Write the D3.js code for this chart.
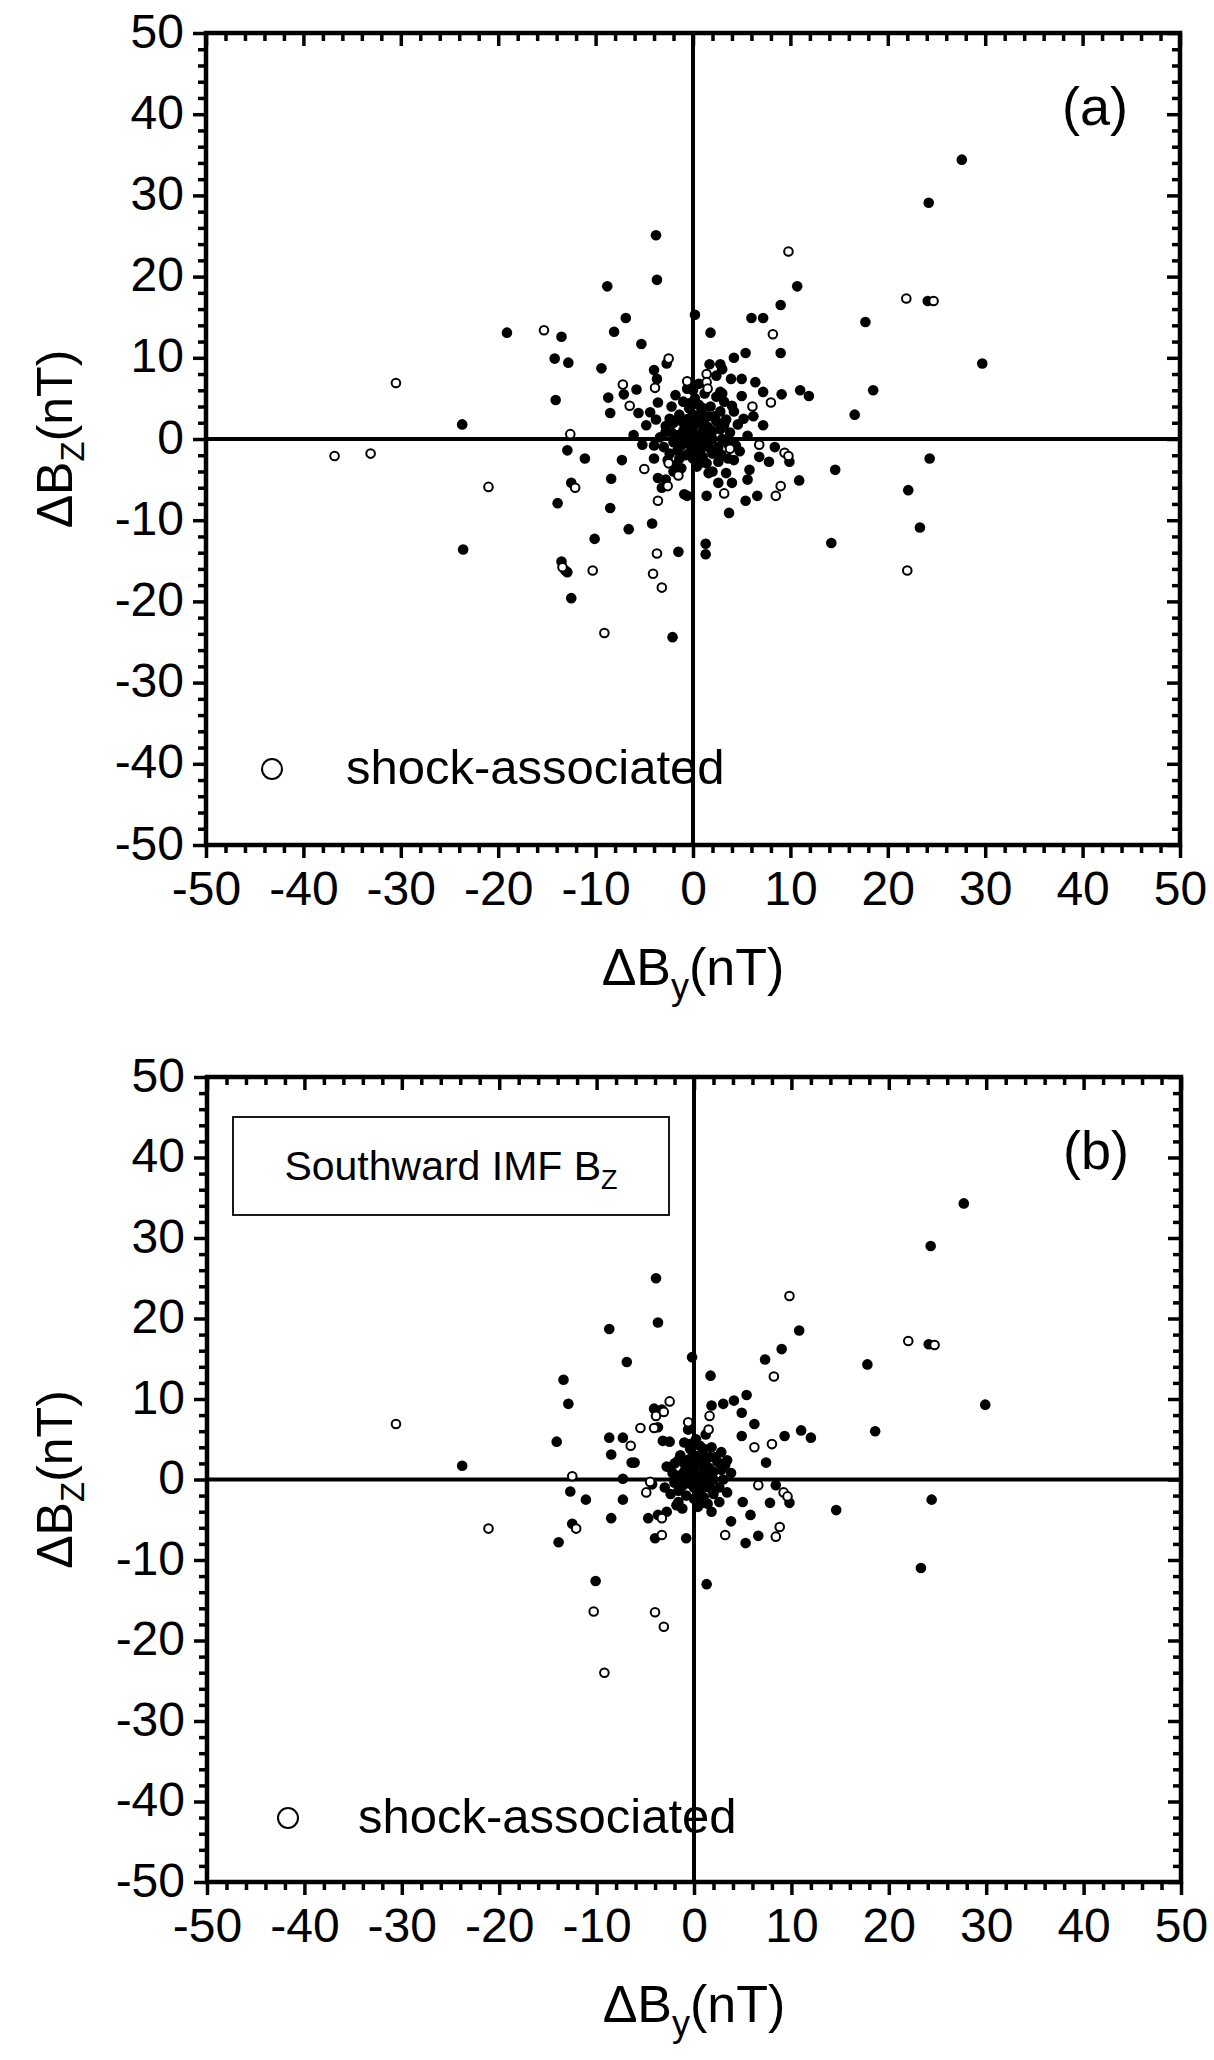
<!DOCTYPE html>
<html>
<head>
<meta charset="utf-8">
<script src="https://cdn.jsdelivr.net/npm/d3@7"></script>
<style>
  html, body { margin: 0; padding: 0; background: #fff; }
  svg { display: block; }
  text { font-family: "Liberation Sans", Arial, Helvetica, sans-serif; fill: #000; }
</style>
</head>
<body>
<svg id="chart" width="1214" height="2060"></svg>
<script>
// ---------------- DATA ----------------
const xDomain = [-50, 50];
const yDomain = [-50, 50];
const majorTicks = [-50, -40, -30, -20, -10, 0, 10, 20, 30, 40, 50];
const minorTicks = [-48,-46,-44,-42,-38,-36,-34,-32,-28,-26,-24,-22,-18,-16,-14,-12,-8,-6,-4,-2,
                    2,4,6,8,12,14,16,18,22,24,26,28,32,34,36,38,42,44,46,48];
const xTitle = ["ΔB", "y", "(nT)"];
const yTitle = ["ΔB", "Z", "(nT)"];
const legendLabel = "shock-associated";
const panelLabels = ["(a)", "(b)"];
const boxLabel = ["Southward IMF B", "Z"];

// Panel (a): all events, [ΔBy, ΔBz]
const aFilled = [
  [27.6,34.4],[24.2,29.1],[-3.8,25.1],[-3.7,19.6],[-8.8,18.8],[10.7,18.8],[24.1,17.0],[17.7,14.4],
  [29.7,9.3],[18.5,6.0],[16.6,3.0],[24.3,-2.4],[22.1,-6.3],[23.3,-10.9],[14.2,-12.8],[14.6,-3.8],
  [10.9,-5.1],[9.0,10.6],[6.0,14.9],[7.2,14.9],[9.0,16.5],[1.8,13.1],[0.2,15.3],[5.4,10.6],[4.2,10.0],
  [3.0,8.6],[2.8,9.2],[1.7,9.2],
  [-19.1,13.1],[-13.5,12.6],[-14.2,9.9],[-12.8,9.4],[-9.4,8.7],[-6.9,14.9],[-8.1,13.2],[-5.3,11.7],
  [-23.7,1.8],[-12.9,-1.4],[-11.1,-2.4],[-14.1,4.8],[-8.7,5.1],[-8.5,3.2],[-7.1,5.5],[-5.8,6.1],
  [-2.7,9.3],[-4.0,8.5],[-3.7,7.4],[-13.9,-7.9],[-12.5,-5.4],[-8.4,-4.9],[-8.5,-8.5],[-7.3,-2.6],
  [-6.6,-11.1],[-10.1,-12.3],[-4.2,-10.4],[-23.6,-13.6],[-13.5,-15.1],[-13.1,-16.2],[-12.9,-16.4],
  [-12.5,-19.6],[-1.5,-13.9],[-2.1,-24.4],[1.3,-12.9],[1.3,-14.2],[3.7,-9.1],[5.4,-7.6],[6.6,-7.0],
  [9.9,-2.8],[7.8,-2.8],[8.4,-1.0],[5.8,-3.8],[5.6,-5.0],[4.0,-5.4],[1.4,-7.0],[-0.6,-7.0],
  [7.2,5.8],[11.0,6.0],[11.9,5.3],[9.1,5.5],[5.0,5.3],[4.0,4.1],[6.4,7.0],[5.0,7.4],[3.9,7.4],
  [2.4,7.8],[2.8,5.8],[5.2,2.5],[7.2,1.7],[4.8,-1.5],[3.6,-2.4],[2.0,-4.0],
  [-4.8,1.7],[-5.2,-0.7],[-4.0,-2.4],[-3.6,-4.8],[-3.2,-6.0],[-2.0,-4.0],[-1.4,-2.4],[-0.9,-6.8],
  [-6.1,0.5],[-4.4,3.3],[-3.6,4.5],[-2.4,2.5],[-2.8,0.9],
  [0,0],[0.5,0.5],[1,1],[1.5,0.5],[-0.5,1],[0,1.5],[0.5,2],[1,2.5],[1.5,1.5],[2,1],[2,0],[1.5,-0.5],
  [1,-1],[0.5,-1.5],[0,-1],[-0.5,-0.5],[-1,0],[-1,1],[-1.5,0.5],[-1,2],[-0.5,2.5],[0,3],[0.8,3.2],
  [1.6,2.8],[2.4,2.2],[2.8,1.2],[3,0],[2.6,-1],[2,-1.8],[1,-2.2],[0,-2.4],[-0.8,-2],[-1.6,-1.4],
  [-2,-0.4],[-2.2,0.8],[-2,2],[-1.4,3],[-0.4,3.8],[0.6,4.2],[1.8,4],[2.8,3.4],[3.4,2.4],[3.8,0.8],
  [3.6,-0.6],[-2.8,1.6],[-3,-1],[-2.6,-2.6],[-1.8,-3.2],[0.4,-3.4],[1.4,-3],[2.6,-2.8],[0.2,5],
  [1.2,5.6],[-1,4.6],[-0.6,6.2],[0.6,6.8],[-1.8,5.4],[2.4,5.2],[3.2,4.6],[4.2,3.4],[4.6,1.8],
  [4.4,-0.8],[4.2,-2.6],
  [-0.2,0.6],[0.8,0.1],[1.2,1.8],[0.3,2.6],[-0.8,1.6],[-1.2,-0.8],[0.6,-0.6],[1.8,-1.2],[2.2,2.8],
  [-0.4,4.4],[1.0,3.8],[-1.6,2.4],[2.9,-1.9],[-2.4,-1.8],[0.9,-2.9],[-0.3,-1.6],[3.2,1.8],[-3.4,0.2],
  [-1.2,-3.6],[1.6,-4.2],[3.0,5.6],[-2.2,4.0],[0.0,6.0],[5.6,0.4],[-4.0,-0.8],[-3.8,2.4],[6.2,2.8],
  [6.8,-2.2],[-5.6,3.2],[-2.8,-5.0],[2.6,-5.4],[3.4,-4.2]
];
const aOpen = [
  [9.8,23.1],[21.9,17.3],[24.7,17.0],[8.2,12.9],[1.4,8.0],[-15.3,13.4],[-30.5,6.9],[-36.8,-2.1],
  [-33.1,-1.8],[-21.0,-5.9],[-12.6,0.6],[-7.2,6.7],[-6.5,4.1],[-2.5,9.9],[-3.9,6.3],[-12.1,-6.0],
  [-13.4,-15.8],[-10.3,-16.2],[-3.7,-14.1],[-4.1,-16.6],[-3.2,-18.3],[-9.1,-23.9],[8.5,-7.0],
  [9.0,-5.8],[9.4,-1.7],[9.8,-2.1],[6.8,-0.7],[3.2,-6.7],[8.0,4.5],[6.1,4.0],[1.4,7.0],
  [-5.0,-3.7],[-3.6,-7.6],[-2.6,-5.8],[22.0,-16.2],
  [-0.6,7.1],[1.5,6.2],[-2.5,-3.0],[3.8,-1.2],[-1.5,-4.5]
];

// Panel (b): southward IMF Bz events
const bFilled = [
  [27.7,34.3],[24.3,29.0],[-3.9,25.0],[-3.7,19.5],[-8.7,18.7],[10.8,18.5],[24.1,16.8],[17.8,14.3],
  [29.9,9.3],[18.6,6.0],[24.4,-2.5],[14.6,-3.8],[23.3,-11.0],[-6.9,14.6],[-13.4,12.4],[-12.9,9.4],
  [-14.1,4.7],[-23.8,1.7],[-12.7,-1.5],[-11.1,-2.5],[-12.5,-5.5],[-13.9,-7.8],[-8.5,-4.8],[-7.3,-2.5],
  [-10.1,-12.6],[1.3,-13.0],[9.0,16.2],[7.3,14.9],[1.7,12.9],[-0.2,15.2],[5.4,10.5],[4.1,9.8],
  [1.8,9.2],[3.0,9.4],[11.0,6.1],[12.0,5.2],[9.3,5.4],[6.2,6.9],[4.9,8.3],[4.9,5.4],[7.4,2.1],
  [8.4,-0.7],[9.8,-2.9],[7.8,-2.9],[5.8,-4.4],[5.3,-7.9],[6.6,-7.0],[3.8,-5.2],[-0.8,-7.3],
  [5.0,-2.8],[3.4,-1.6],[1.8,-4.0],[-6.4,2.1],[-7.3,0.1],[-4.3,-0.6],[-4.7,-4.8],[-3.7,-4.4],
  [-4.0,-7.3],[-2.8,-4.0],[-1.6,-2.8],[-3.2,4.8],[-2.5,4.7],[-3.7,6.5],[-4.1,8.8],[-3.3,8.7],
  [-8.7,5.2],[-8.5,3.1],[-7.3,5.2],[-6.1,2.1],
  [0,0],[0.5,0.5],[1,1],[1.5,0.5],[-0.5,1],[0,1.5],[0.5,2],[1,2.5],[1.5,1.5],[2,1],[2,0],[1.5,-0.5],
  [1,-1],[0.5,-1.5],[0,-1],[-0.5,-0.5],[-1,0],[-1,1],[-1.5,0.5],[-1,2],[-0.5,2.5],[0,3],[0.8,3.2],
  [1.6,2.8],[2.4,2.2],[2.8,1.2],[3,0],[2.6,-1],[2,-1.8],[1,-2.2],[0,-2.4],[-0.8,-2],[-1.6,-1.4],
  [-2,-0.4],[-2.2,0.8],[-2,2],[-1.4,3],[-0.4,3.8],[0.6,4.2],[1.8,4],[2.8,3.4],[3.4,2.4],[3.8,0.8],
  [-2.8,1.6],[-3,-1],[-1.8,-3.2],[0.4,-3.4],[1.4,-3],[0.2,5],[1.2,5.6],[-1,4.6],[-0.6,6.2],
  [-0.2,0.6],[0.8,0.1],[1.2,1.8],[0.3,2.6],[-0.8,1.6],[-1.2,-0.8],[0.6,-0.6],[1.8,-1.2],[2.2,2.8],
  [-0.4,4.4],[1.0,3.8],[-1.6,2.4],[-2.4,-1.8],[0.9,-2.9],[3.2,1.8],[-1.2,-3.6],[2.6,-2.8]
];
const bOpen = [
  [9.8,22.8],[22.0,17.2],[24.7,16.7],[8.2,12.8],[1.6,7.9],[-30.6,6.9],[-21.1,-6.1],[-12.5,0.4],
  [-12.1,-6.1],[-10.3,-16.4],[-4.0,-16.5],[-3.1,-18.3],[-9.2,-24.0],[8.0,4.4],[6.2,4.0],[6.6,-0.7],
  [9.2,-1.6],[9.6,-2.1],[8.4,-7.1],[8.8,-5.9],[3.2,-6.9],[-4.5,-0.3],[-4.9,-1.6],[-3.3,-4.8],
  [-3.3,-6.9],[-4.1,6.4],[-3.9,7.9],[-3.1,8.4],[-2.5,9.7],[-5.5,6.4],[-6.5,4.2],
  [-0.6,7.1],[1.5,6.2]
];

// ---------------- LAYOUT ----------------
const panels = [
  { left: 206, right: 1180, top: 33,   bottom: 845,  filled: aFilled, open: aOpen, label: panelLabels[0],
    legend: { cx: 66, cy: 736, tx: 140, ty: 751 }, box: null },
  { left: 207, right: 1181, top: 1077, bottom: 1882, filled: bFilled, open: bOpen, label: panelLabels[1],
    legend: { cx: 81, cy: 741, tx: 151, ty: 756 }, box: { x: 26, y: 40, w: 436, h: 98 } }
];

const svg = d3.select("#chart");
svg.append("rect").attr("width", 1214).attr("height", 2060).attr("fill", "#fff");

const TICK_FONT = 48;
const MAJOR = 13, MINOR = 8;
const fmt = d => String(d); // plain hyphen-minus, as in the original

panels.forEach(p => {
  const x = d3.scaleLinear().domain(xDomain).range([p.left, p.right]);
  const y = d3.scaleLinear().domain(yDomain).range([p.bottom, p.top]);
  const g = svg.append("g");

  // zero lines
  g.append("line").attr("x1", p.left).attr("x2", p.right).attr("y1", y(0)).attr("y2", y(0))
    .attr("stroke", "#000").attr("stroke-width", 4);
  g.append("line").attr("x1", x(0)).attr("x2", x(0)).attr("y1", p.top).attr("y2", p.bottom)
    .attr("stroke", "#000").attr("stroke-width", 4);

  function drawAxis(axisGen, transform, labels) {
    const ag = g.append("g").attr("transform", transform).call(axisGen);
    ag.select(".domain").remove();
    ag.selectAll(".tick line").attr("stroke", "#000").attr("stroke-width", 3.5);
    if (!labels) ag.selectAll(".tick text").remove();
    return ag;
  }
  // bottom (outward)
  const bot = drawAxis(d3.axisBottom(x).tickValues(majorTicks).tickSize(MAJOR).tickPadding(0)
      .tickFormat(fmt), `translate(0,${p.bottom})`, true);
  bot.selectAll(".tick text").attr("font-size", TICK_FONT).attr("dy", null).attr("y", 60)
     .attr("font-family", "Liberation Sans, Arial, sans-serif");
  drawAxis(d3.axisBottom(x).tickValues(minorTicks).tickSize(MINOR), `translate(0,${p.bottom})`, false);
  // left (outward)
  const lef = drawAxis(d3.axisLeft(y).tickValues(majorTicks).tickSize(MAJOR).tickPadding(0)
      .tickFormat(fmt), `translate(${p.left},0)`, true);
  lef.selectAll(".tick text").attr("font-size", TICK_FONT).attr("x", -22).attr("dy", null).attr("y", 14)
     .attr("font-family", "Liberation Sans, Arial, sans-serif");
  drawAxis(d3.axisLeft(y).tickValues(minorTicks).tickSize(MINOR), `translate(${p.left},0)`, false);
  // top (inward)
  drawAxis(d3.axisTop(x).tickValues(majorTicks).tickSize(-MAJOR), `translate(0,${p.top})`, false);
  drawAxis(d3.axisTop(x).tickValues(minorTicks).tickSize(-MINOR), `translate(0,${p.top})`, false);
  // right (inward)
  drawAxis(d3.axisRight(y).tickValues(majorTicks).tickSize(-MAJOR), `translate(${p.right},0)`, false);
  drawAxis(d3.axisRight(y).tickValues(minorTicks).tickSize(-MINOR), `translate(${p.right},0)`, false);

  // frame
  g.append("rect").attr("x", p.left).attr("y", p.top)
    .attr("width", p.right - p.left).attr("height", p.bottom - p.top)
    .attr("fill", "none").attr("stroke", "#000").attr("stroke-width", 4.5);

  // data points
  g.append("g").selectAll("circle").data(p.filled).join("circle")
    .attr("cx", d => x(d[0])).attr("cy", d => y(d[1])).attr("r", 5.3).attr("fill", "#000");
  g.append("g").selectAll("circle").data(p.open).join("circle")
    .attr("cx", d => x(d[0])).attr("cy", d => y(d[1])).attr("r", 4.3)
    .attr("fill", "#fff").attr("stroke", "#000").attr("stroke-width", 2);

  // panel label
  g.append("text").attr("x", p.left + 922).attr("y", p.top + 92).attr("text-anchor", "end")
    .attr("font-size", 54).text(p.label);

  // legend
  g.append("circle").attr("cx", p.left + p.legend.cx).attr("cy", p.top + p.legend.cy).attr("r", 10)
    .attr("fill", "#fff").attr("stroke", "#000").attr("stroke-width", 2);
  g.append("text").attr("x", p.left + p.legend.tx).attr("y", p.top + p.legend.ty)
    .attr("font-size", 49).text(legendLabel);

  // Southward box
  if (p.box) {
    g.append("rect").attr("x", p.left + p.box.x).attr("y", p.top + p.box.y)
      .attr("width", p.box.w).attr("height", p.box.h)
      .attr("fill", "#fff").attr("stroke", "#000").attr("stroke-width", 1.8);
    const bt = g.append("text").attr("x", p.left + p.box.x + p.box.w / 2).attr("y", p.top + p.box.y + 63)
      .attr("text-anchor", "middle").attr("font-size", 41);
    bt.append("tspan").text(boxLabel[0]);
    bt.append("tspan").attr("font-size", 27).attr("dy", 9).text(boxLabel[1]);
  }

  // x title
  const cx = (p.left + p.right) / 2;
  const xt = g.append("text").attr("x", cx).attr("y", p.bottom + 140).attr("text-anchor", "middle")
    .attr("font-size", 52);
  xt.append("tspan").text(xTitle[0]);
  xt.append("tspan").attr("font-size", 36).attr("dy", 14).text(xTitle[1]);
  xt.append("tspan").attr("dy", -14).text(xTitle[2]);

  // y title
  const cy = (p.top + p.bottom) / 2;
  const yt = g.append("text").attr("transform", `translate(72,${cy}) rotate(-90)`)
    .attr("text-anchor", "middle").attr("font-size", 50);
  yt.append("tspan").text(yTitle[0]);
  yt.append("tspan").attr("font-size", 33).attr("dy", 12).text(yTitle[1]);
  yt.append("tspan").attr("dy", -12).text(yTitle[2]);
});
</script>
</body>
</html>
